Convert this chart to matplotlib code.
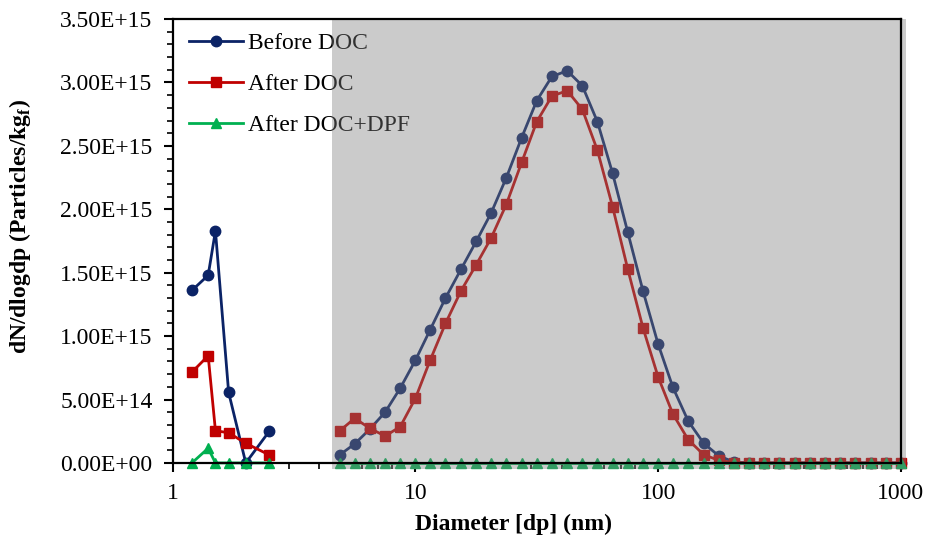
import matplotlib
matplotlib.use("Agg")
import matplotlib.pyplot as plt
from matplotlib.patches import Rectangle
from matplotlib.ticker import FixedLocator, FuncFormatter, MultipleLocator, NullFormatter
import matplotlib.transforms as mtransforms
import numpy as np

# nucleation-mode channels (left cluster)
dp_small = [1.2, 1.4, 1.5, 1.7, 2.0, 2.5]
before_small = [1.36e15, 1.48e15, 1.83e15, 0.556e15, 0.0, 0.25e15]
after_small = [0.716e15, 0.845e15, 0.254e15, 0.238e15, 0.155e15, 0.063e15]
dpf_small = [0.0, 0.116e15, 0.0, 0.0, 0.0, 0.0]

# SMPS channels (right cluster), values in 1e15
dp_smps = [4.87, 5.62, 6.49, 7.50, 8.66, 10.0, 11.5, 13.3, 15.4, 17.8,
           20.5, 23.7, 27.4, 31.6, 36.5, 42.2, 48.7, 56.2, 64.9, 75.0,
           86.6, 100, 115, 133, 154, 178, 205, 237, 274, 316,
           365, 422, 487, 562, 649, 750, 866, 1000]
before_smps = [0.063, 0.15, 0.267, 0.40, 0.59, 0.81, 1.05, 1.30, 1.526, 1.747,
               1.97, 2.25, 2.565, 2.856, 3.047, 3.092, 2.974, 2.69, 2.284, 1.817,
               1.356, 0.936, 0.596, 0.33, 0.155, 0.055, 0.008, 0, 0, 0,
               0, 0, 0, 0, 0, 0, 0, 0]
after_smps = [0.252, 0.352, 0.273, 0.212, 0.286, 0.51, 0.81, 1.10, 1.356, 1.563,
              1.773, 2.04, 2.37, 2.69, 2.893, 2.935, 2.788, 2.465, 2.02, 1.526,
              1.065, 0.677, 0.386, 0.183, 0.065, 0.02, 0.003, 0, 0, 0,
              0, 0, 0, 0, 0, 0, 0, 0]
dpf_smps = [0.0] * 38

labels = ["Before DOC", "After DOC", "After DOC+DPF"]
colors = ["#0B2366", "#C00000", "#00B050"]
markers = ["o", "s", "^"]
msizes = [7.5, 7, 7.5]

plt.rcParams["font.family"] = ["Liberation Serif", "DejaVu Serif"]
plt.rcParams["mathtext.fontset"] = "custom"
plt.rcParams["mathtext.rm"] = "Liberation Serif"
plt.rcParams["mathtext.bf"] = "Liberation Serif:bold"

fig = plt.figure(figsize=(9.3, 5.44), dpi=100)
ax = fig.add_axes([0.1857, 0.149, 0.9687 - 0.1857, 0.965 - 0.149])

small = [before_small, after_small, dpf_small]
big = [before_smps, after_smps, dpf_smps]
for i in range(3):
    ax.plot(dp_small, small[i], color=colors[i], marker=markers[i], ms=msizes[i],
            lw=2, label=labels[i], clip_on=False, zorder=3)
    ax.plot(dp_smps, np.array(big[i]) * 1e15, color=colors[i], marker=markers[i],
            ms=msizes[i], lw=2, clip_on=False, zorder=3)

ax.set_xscale("log")
ax.set_xlim(1, 1000)
ax.set_ylim(0, 3.5e15)
ax.xaxis.set_major_locator(FixedLocator([1, 10, 100, 1000]))
ax.xaxis.set_major_formatter(FuncFormatter(lambda v, p: f"{v:g}"))
ax.xaxis.set_minor_formatter(NullFormatter())
ax.yaxis.set_major_locator(MultipleLocator(0.5e15))
ax.yaxis.set_minor_locator(MultipleLocator(0.1e15))
ax.yaxis.set_major_formatter(FuncFormatter(lambda v, p: f"{v:.2E}"))
ax.tick_params(which="major", direction="out", length=6.5, width=1.5, labelsize=17, color="black")
ax.tick_params(which="minor", direction="out", length=4, width=1.2, color="black")
ax.tick_params(axis="x", pad=8)
ax.tick_params(axis="y", pad=8)

for s in ax.spines.values():
    s.set_linewidth(1.6)
    s.set_zorder(8)

leg = ax.legend(loc="upper left", bbox_to_anchor=(0.01, 0.991), frameon=False,
                fontsize=17, handlelength=2.25, handletextpad=0.25, labelspacing=0.83,
                borderaxespad=0.0)
leg.set_zorder(5)

# shaded SMPS region, drawn over the data as a translucent layer
trans = mtransforms.blended_transform_factory(ax.transData, ax.transAxes)
ax.add_patch(Rectangle((4.55, -0.0135), 1045 - 4.55, 1.0135, transform=trans,
                       facecolor="#7f7f7f", edgecolor="none", alpha=0.4,
                       clip_on=False, zorder=6))

ax.set_xlabel("Diameter [dp] (nm)", fontsize=17, fontweight="bold")
ax.set_ylabel(r"dN/dlogdp (Particles/kg$_{\mathbf{f}}$)", fontsize=17,
              fontweight="bold")
ax.xaxis.set_label_coords(0.4686, -0.115)
ax.yaxis.set_label_coords(-0.192, 0.5315)

fig.savefig("out.png", dpi=100)
